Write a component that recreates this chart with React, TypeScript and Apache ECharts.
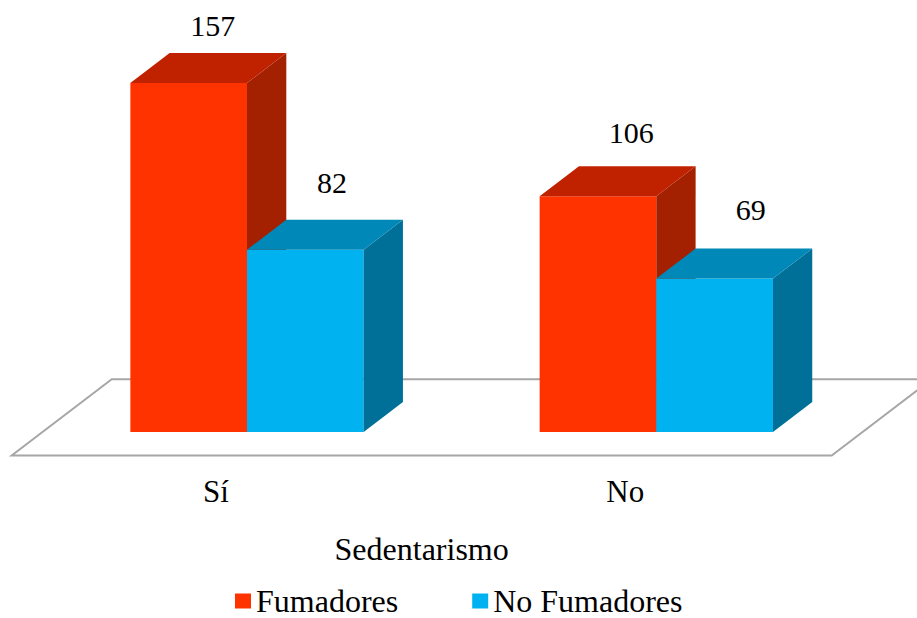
import React, { useEffect, useRef } from "react";
import * as echarts from "echarts";

const categories = ["Sí", "No"];
const fumadores = [157, 106];
const noFumadores = [82, 69];
const seriesNames = ["Fumadores", "No Fumadores"];
const axisTitle = "Sedentarismo";

const FONT = "'Liberation Serif', 'Times New Roman', serif";
const DX = 39.3;
const DY = 30;
const BAR_RATIO = 0.285;

const RED = { front: "#FF3300", top: "#C02200", side: "#A32000" };
const BLUE = { front: "#00B2F0", top: "#0088B8", side: "#007098" };

function makeRender(side: number, c: { front: string; top: string; side: string }) {
  return (params: any, api: any) => {
    const cat = api.value(0);
    const v = api.value(1);
    const topPt = api.coord([cat, v]);
    const basePt = api.coord([cat, 0]);
    const band = api.size([1, 0])[0];
    const w = band * BAR_RATIO;
    const x0 = side < 0 ? topPt[0] - w : topPt[0];
    const x1 = x0 + w;
    const yt = topPt[1];
    const yb = basePt[1];
    const cx = (x0 + x1) / 2;
    const offX = 24 + (cx - 188) * 0.0228;
    const offY = 57.4 + (yt - 82.7) * 0.0576;
    return {
      type: "group",
      children: [
        {
          type: "rect",
          shape: { x: x0, y: yt, width: w, height: yb - yt },
          style: { fill: c.front },
        },
        {
          type: "polygon",
          shape: { points: [[x1, yt], [x1 + DX, yt - DY], [x1 + DX, yb - DY], [x1, yb]] },
          style: { fill: c.side },
        },
        {
          type: "polygon",
          shape: { points: [[x0, yt], [x0 + DX, yt - DY], [x1 + DX, yt - DY], [x1, yt]] },
          style: { fill: c.top },
        },
        {
          type: "text",
          x: cx + offX,
          y: yt - offY,
          style: {
            text: String(v),
            fontSize: 30,
            fontFamily: FONT,
            fill: "#000",
            align: "center",
            verticalAlign: "middle",
          },
        },
      ],
    };
  };
}

export default function App() {
  const ref = useRef<HTMLDivElement>(null);
  useEffect(() => {
    document.body.style.margin = "0";
    if (!ref.current) return;
    const chart = echarts.init(ref.current, null, { renderer: "svg" });
    chart.setOption({
      animation: false,
      backgroundColor: "#fff",
      grid: { left: 42.35, right: 56.05, top: 83, bottom: 186 },
      xAxis: {
        type: "category",
        data: categories,
        axisLine: { show: false },
        axisTick: { show: false },
        splitLine: { show: false },
        axisLabel: {
          fontSize: 31,
          fontFamily: FONT,
          color: "#000",
          margin: 44,
          padding: [0, 62, 0, 0],
        },
        name: axisTitle,
        nameLocation: "middle",
        nameGap: 101,
        nameTextStyle: {
          fontSize: 32,
          fontFamily: FONT,
          color: "#000",
          padding: [0, 60, 0, 0],
        },
      },
      yAxis: {
        type: "value",
        min: 0,
        max: 157,
        show: false,
      },
      legend: {
        left: 230,
        top: 580,
        itemWidth: 16,
        itemHeight: 15,
        itemGap: 74,
        icon: "rect",
        textStyle: { fontSize: 32, fontFamily: FONT, color: "#000" },
        data: seriesNames,
      },
      graphic: [
        {
          type: "polygon",
          z: 0,
          shape: {
            points: [
              [111.7, 379.3],
              [11.7, 455.5],
              [831.7, 455.5],
              [931.7, 379.3],
            ],
          },
          style: { fill: "none", stroke: "#A6A6A6", lineWidth: 2 },
        },
      ],
      series: [
        {
          name: seriesNames[0],
          type: "custom",
          z: 3,
          itemStyle: { color: RED.front },
          encode: { x: 0, y: 1 },
          data: fumadores.map((v, i) => [i, v]),
          renderItem: makeRender(-1, RED),
        },
        {
          name: seriesNames[1],
          type: "custom",
          z: 4,
          itemStyle: { color: BLUE.front },
          encode: { x: 0, y: 1 },
          data: noFumadores.map((v, i) => [i, v]),
          renderItem: makeRender(1, BLUE),
        },
      ],
    });
    return () => chart.dispose();
  }, []);
  return (
    <div
      ref={ref}
      style={{ position: "absolute", left: 0, top: 0, width: 917, height: 618 }}
    />
  );
}
